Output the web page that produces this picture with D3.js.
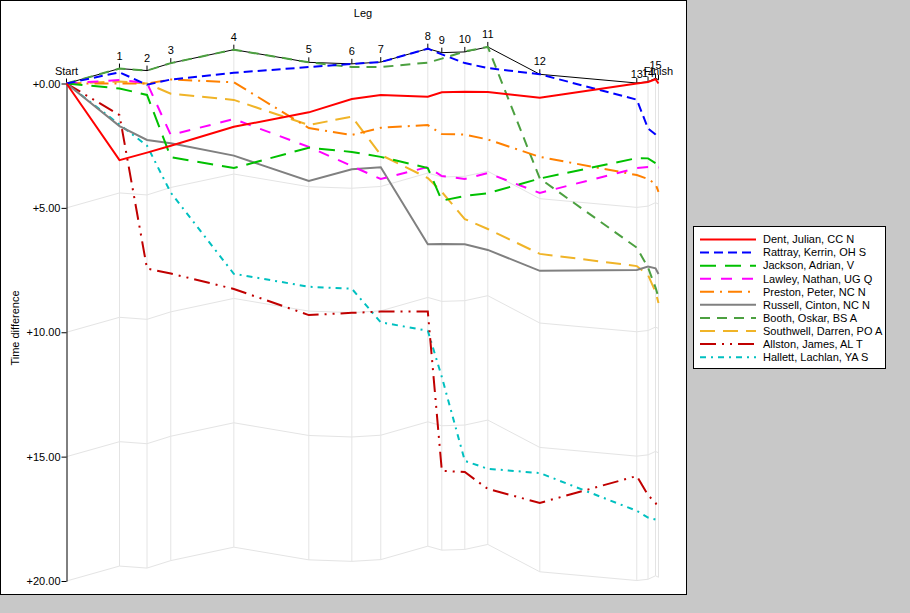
<!DOCTYPE html>
<html>
<head>
<meta charset="utf-8">
<script src="https://cdn.jsdelivr.net/npm/d3@7"></script>
<style>
    body { margin: 0; background: #c8c8c8; }
    svg { display: block; font-family: "Liberation Sans", Arial, sans-serif; font-size: 11px; }
</style>
</head>
<body>
<script>
// Legs and the reference (cumulative) time of each control, in minutes
var legLabels = ["Start", "1", "2", "3", "4", "5", "6", "7", "8", "9", "10",
                 "11", "12", "13", "14", "15", "Finish"];
var legTimes = [0, 5.37, 8.16, 10.57, 16.96, 24.56, 28.92, 31.85, 36.62, 38.04,
                40.37, 42.70, 47.97, 57.80, 58.94, 59.70, 60.0];

// Best possible time difference at each control (drawn in black)
var bestDiff = [0, -0.60, -0.52, -0.82, -1.36, -0.85, -0.79, -0.86, -1.40, -1.24,
                -1.27, -1.47, -0.37, -0.02, -0.07, -0.21, -0.15];

// Runners, in legend order
var runnerNames = ["Dent, Julian, CC N", "Rattray, Kerrin, OH S", "Jackson, Adrian, V",
                   "Lawley, Nathan, UG Q", "Preston, Peter, NC N", "Russell, Cinton, NC N",
                   "Booth, Oskar, BS A", "Southwell, Darren, PO A", "Allston, James, AL T",
                   "Hallett, Lachlan, YA S"];

// Time difference (minutes) at each control for every runner
var dentDiff      = [0, 3.08, 2.78, 2.50, 1.74, 1.16, 0.62, 0.46, 0.53, 0.35, 0.33, 0.34, 0.57, 0.00, -0.06, -0.17, 0.00];
var rattrayDiff   = [0, -0.45, 0.05, -0.16, -0.43, -0.66, -0.79, -0.86, -1.40, -1.17, -0.82, -0.62, -0.37, 0.65, 1.81, 2.05, 2.17];
var jacksonDiff   = [0, 0.20, 0.46, 2.96, 3.40, 2.58, 2.75, 2.95, 3.40, 4.71, 4.52, 4.41, 3.82, 3.00, 3.01, 3.20, 3.24];
var lawleyDiff    = [0, -0.14, -0.02, 2.07, 1.43, 2.55, 3.32, 3.84, 3.36, 3.72, 3.84, 3.60, 4.40, 3.40, 3.36, 3.36, 3.38];
var prestonDiff   = [0, 0.00, 0.00, -0.16, -0.05, 1.79, 2.07, 1.78, 1.67, 2.03, 2.05, 2.25, 2.95, 3.68, 3.84, 4.04, 4.36];
var russellDiff   = [0, 1.71, 2.27, 2.40, 2.90, 3.92, 3.45, 3.37, 6.46, 6.45, 6.46, 6.69, 7.53, 7.50, 7.36, 7.43, 7.66];
var boothDiff     = [0, -0.60, -0.52, -0.82, -1.36, -0.85, -0.66, -0.66, -0.84, -1.00, -1.29, -1.47, 3.82, 6.60, 7.40, 8.20, 8.60];
var southwellDiff = [0, -0.08, 0.00, 0.41, 0.66, 1.67, 1.33, 2.87, 3.80, 4.36, 5.45, 5.85, 6.85, 7.34, 7.70, 8.38, 8.82];
var allstonDiff   = [0, 1.27, 7.44, 7.64, 8.26, 9.31, 9.22, 9.17, 9.17, 15.57, 15.62, 16.30, 16.86, 15.78, 16.55, 16.86, 17.07];
var hallettDiff   = [0, 1.65, 2.50, 4.39, 7.65, 8.17, 8.25, 9.60, 9.94, 11.80, 15.17, 15.49, 15.66, 17.18, 17.45, 17.53, 17.55];

var yTicks = [0, 5, 10, 15, 20];

function init() {
    var w = 910;
    var h = 613;

    var series = [dentDiff, rattrayDiff, jacksonDiff, lawleyDiff, prestonDiff,
                  russellDiff, boothDiff, southwellDiff, allstonDiff, hallettDiff];

    // Line styles per runner (same order as the names)
    var styles = [
        { color: "#ff0000", dash: null },
        { color: "#0000ff", dash: "9,5" },
        { color: "#00c000", dash: "16,9" },
        { color: "#ff00ff", dash: "11,10" },
        { color: "#ff8000", dash: "14,6,2,6" },
        { color: "#808080", dash: null },
        { color: "#4ca040", dash: "10,7" },
        { color: "#f0b428", dash: "15,8" },
        { color: "#c00000", dash: "16,6,2,6,2,6" },
        { color: "#00c0c0", dash: "6,5,2,5" }
    ];

    var x = d3.scaleLinear().domain([0, 60]).range([66.5, 658.5]);
    var y = d3.scaleLinear().domain([0, 20]).range([83.5, 581]);

    var svg = d3.select("body")
        .append("svg")
        .attr("width", w)
        .attr("height", h);

    // Chart panel
    svg.append("rect")
        .attr("x", 0.5).attr("y", 0.5)
        .attr("width", 686).attr("height", 594)
        .attr("fill", "#fff")
        .attr("stroke", "#000");

    var line = d3.line()
        .x(function(d, i) { return x(legTimes[i]); })
        .y(function(d) { return y(d); });

    // Grid lines follow the best line, offset by whole tick steps
    var grid = svg.append("g")
        .attr("fill", "none")
        .attr("stroke", "#e4e4e4")
        .attr("stroke-width", 1);

    grid.selectAll("path.h")
        .data(yTicks.slice(1))
        .enter()
        .append("path")
        .attr("class", "h")
        .attr("d", function(k) {
            return line(bestDiff.map(function(b) { return b + k; }));
        });

    grid.selectAll("line.v")
        .data(legTimes.slice(1))
        .enter()
        .append("line")
        .attr("class", "v")
        .attr("x1", function(d) { return x(d); })
        .attr("x2", function(d) { return x(d); })
        .attr("y1", function(d, i) { return y(bestDiff[i + 1]); })
        .attr("y2", function(d, i) { return y(bestDiff[i + 1] + 20); });

    // Best line
    svg.append("path")
        .attr("d", line(bestDiff))
        .attr("fill", "none")
        .attr("stroke", "#000")
        .attr("stroke-width", 1);

    // Y axis
    var yAxis = d3.axisLeft(y)
        .tickValues(yTicks)
        .tickFormat(d3.format("+.2f"))
        .tickSize(5)
        .tickSizeOuter(0)
        .tickPadding(1);

    var gy = svg.append("g")
        .attr("transform", "translate(66.5,0)")
        .call(yAxis);
    gy.attr("font-family", null).attr("font-size", null);
    gy.selectAll("text").attr("fill", "#000");

    svg.append("text")
        .attr("transform", "translate(15,328) rotate(-90)")
        .attr("text-anchor", "middle")
        .attr("dy", "0.35em")
        .text("Time difference");

    svg.append("text")
        .attr("x", 363)
        .attr("y", 17)
        .attr("text-anchor", "middle")
        .text("Leg");

    // Leg ticks and labels on the best line
    var legs = svg.append("g");

    legs.selectAll("line")
        .data(legTimes)
        .enter()
        .append("line")
        .attr("x1", function(d) { return x(d); })
        .attr("x2", function(d) { return x(d); })
        .attr("y1", function(d, i) { return y(bestDiff[i]); })
        .attr("y2", function(d, i) { return y(bestDiff[i]) - 5; })
        .attr("stroke", "#000");

    var labels = legs.selectAll("text")
        .data(legLabels)
        .enter()
        .append("text")
        .attr("x", function(d, i) { return x(legTimes[i]); })
        .attr("text-anchor", "middle")
        .text(function(d) { return d; });

    // Crowded labels: one that overlaps the previous label stays up,
    // its crowded neighbours drop a little
    var boxes = [];
    labels.each(function(d, i) {
        var tw = this.getComputedTextLength();
        var cx = x(legTimes[i]);
        boxes.push({ left: cx - tw / 2, right: cx + tw / 2 });
    });
    var bumped = [];
    boxes.forEach(function(b, i) {
        var up = i > 0 && !bumped[i - 1] && boxes[i - 1].right - b.left > 2;
        bumped.push(up);
    });
    labels.attr("y", function(d, i) {
        var base = y(bestDiff[i]) - 9;
        var crowded = (i > 0 && boxes[i - 1].right - boxes[i].left > -3) ||
                      (i < boxes.length - 1 && boxes[i].right - boxes[i + 1].left > -3);
        if (crowded && !bumped[i]) base += 4;
        return base;
    });

    // Runner lines, first runner drawn on top
    var order = d3.range(series.length).reverse();
    svg.append("g")
        .selectAll("path")
        .data(order)
        .enter()
        .append("path")
        .attr("d", function(i) { return line(series[i]); })
        .attr("fill", "none")
        .attr("stroke", function(i) { return styles[i].color; })
        .attr("stroke-width", 2)
        .attr("stroke-dasharray", function(i) { return styles[i].dash; });

    // Legend
    var legend = svg.append("g");
    legend.append("rect")
        .attr("x", 693.5).attr("y", 226.5)
        .attr("width", 192).attr("height", 142)
        .attr("fill", "#fff")
        .attr("stroke", "#000");

    var rows = legend.selectAll("g.row")
        .data(runnerNames)
        .enter()
        .append("g")
        .attr("class", "row")
        .attr("transform", function(d, i) { return "translate(0," + (239.5 + i * 13.07) + ")"; });

    rows.append("line")
        .attr("x1", 700).attr("x2", 756)
        .attr("stroke", function(d, i) { return styles[i].color; })
        .attr("stroke-width", 2)
        .attr("stroke-dasharray", function(d, i) { return styles[i].dash; });

    rows.append("text")
        .attr("x", 763)
        .attr("dy", "0.35em")
        .text(function(d) { return d; });
}

window.onload = init;
</script>
</body>
</html>
